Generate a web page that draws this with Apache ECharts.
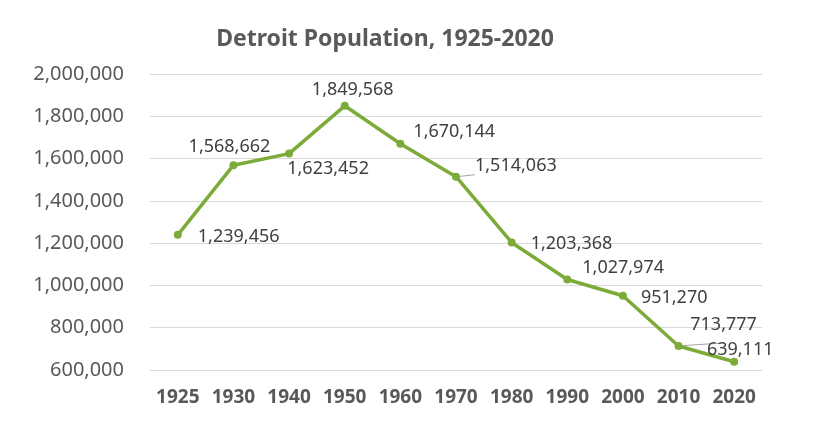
<!DOCTYPE html>
<html>
<head>
<meta charset="utf-8">
<script src="https://cdn.jsdelivr.net/npm/echarts@6/dist/echarts.min.js"></script>
<style>
html, body { margin: 0; padding: 0; background: #fff; }
#main { width: 815px; height: 430px; }
</style>
</head>
<body>
<div id="main"></div>
<script>
var years = ["1925", "1930", "1940", "1950", "1960", "1970", "1980", "1990", "2000", "2010", "2020"];
var population = [1239456, 1568662, 1623452, 1849568, 1670144, 1514063, 1203368, 1027974, 951270, 713777, 639111];

// label placement per point: [position, dx, dy, leader line]
var labelPlace = [
    ["right", 11, 2, false],
    ["top", -4, 0, false],
    ["bottom", 39, -3, false],
    ["top", 8, 2, false],
    ["right", 4, -12, false],
    ["right", 10, -11, true],
    ["right", 10, 1, false],
    ["right", 6, -12, false],
    ["right", 9, 2, false],
    ["top", 45, -3, true],
    ["top", 6, 6, false]
];

var fmt = function (v) {
    return String(v).replace(/\B(?=(\d{3})+(?!\d))/g, ",");
};

var seriesData = population.map(function (v, i) {
    var p = labelPlace[i];
    return {
        value: v,
        label: { position: p[0], offset: [p[1], p[2]] },
        labelLine: { show: p[3] }
    };
});

var myChart = echarts.init(document.getElementById("main"));
var option = {
    backgroundColor: "#fff",
    animation: false,
    title: {
        text: "Detroit Population, 1925-2020",
        left: 380,
        top: 23,
        textAlign: "center",
        textStyle: {
            fontFamily: "Noto Sans",
            fontSize: 23,
            fontWeight: "bold",
            color: "#595959"
        }
    },
    grid: { left: 150, right: 53, top: 74, bottom: 60 },
    xAxis: {
        type: "category",
        data: years,
        axisLine: { show: false },
        axisTick: { show: false },
        axisLabel: {
            interval: 0,
            fontFamily: "Noto Sans",
            fontSize: 19,
            fontWeight: "bold",
            color: "#595959",
            margin: 18
        }
    },
    yAxis: {
        type: "value",
        min: 600000,
        max: 2000000,
        interval: 200000,
        axisLabel: {
            fontFamily: "Noto Sans",
            fontSize: 20,
            color: "#595959",
            margin: 26,
            formatter: fmt
        },
        splitLine: { lineStyle: { color: "#d9d9d9", width: 1 } }
    },
    series: [{
        type: "line",
        data: seriesData,
        symbol: "circle",
        symbolSize: 8,
        itemStyle: { color: "#7dab39" },
        lineStyle: { color: "#7dab39", width: 3.5 },
        label: {
            show: true,
            distance: 5,
            fontFamily: "Noto Sans",
            fontSize: 18,
            color: "#404040",
            formatter: function (p) { return fmt(p.value); }
        },
        labelLine: {
            show: false,
            lineStyle: { color: "#a6a6a6", width: 1 }
        }
    }]
};
myChart.setOption(option, true);
</script>
</body>
</html>
